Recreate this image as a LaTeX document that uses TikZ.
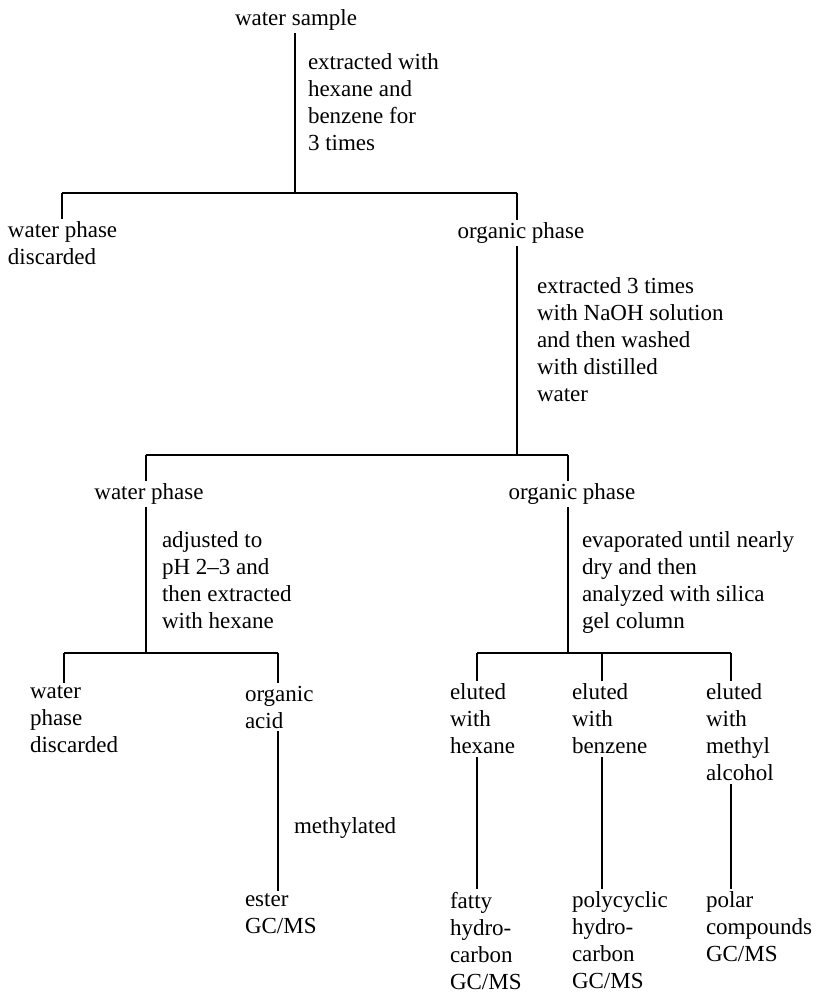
\documentclass[tikz,border=0pt]{standalone}
\usepackage{fontspec}
\setmainfont{Liberation Serif}
\begin{document}
\begin{tikzpicture}[
    x=1pt, y=-1pt,
    % Common Styles
    step_text/.style={
        font=\fontsize{23}{27}\selectfont,
        align=left,
        anchor=north west,
        inner sep=0pt,
        outer sep=3pt
    },
    phase_text/.style={
        font=\fontsize{23}{27}\selectfont,
        inner sep=0pt,
        outer sep=3pt
    },
    link/.style={
        black,
        line width=1.3pt
    }
]
    \useasboundingbox (0,0) rectangle (816,995);

    % ================= FIRST EXTRACTION =================
    \node[phase_text] (sample) at (296,20) {water sample};
    \node[step_text] (step1) at (305,51) {extracted with\\hexane and\\benzene for\\3 times};

    % Split points
    \coordinate (split1)  at (295,193);
    \coordinate (split1l) at (62,193);
    \coordinate (split1r) at (517,193);

    \node[step_text] (waste1) at (5,219) {water phase\\discarded};
    \node[phase_text] (org1) at (521,233) {organic phase};

    \draw[link] (sample.south -| split1) -- (split1);
    \draw[link] (split1l) -- (split1r);
    \draw[link] (split1l) -- (split1l |- waste1.north);
    \draw[link] (split1r) -- (split1r |- org1.north);

    % ================= NaOH EXTRACTION =================
    \node[step_text] (step2) at (534,275) {extracted 3 times\\with NaOH solution\\and then washed\\with distilled\\water};

    \coordinate (split2)  at (517,455);
    \coordinate (split2l) at (146,455);
    \coordinate (split2r) at (568,455);

    \node[phase_text] (water2) at (149,494) {water phase};
    \node[phase_text] (org2) at (572,494) {organic phase};

    \draw[link] (org1.south -| split2) -- (split2);
    \draw[link] (split2l) -- (split2r);
    \draw[link] (split2l) -- (split2l |- water2.north);
    \draw[link] (split2r) -- (split2r |- org2.north);

    % ================= WATER PHASE BRANCH =================
    \node[step_text] (step3) at (159,529) {adjusted to\\pH 2--3 and\\then extracted\\with hexane};

    \coordinate (split3a)  at (146,653);
    \coordinate (split3al) at (64,653);
    \coordinate (split3ar) at (278,653);

    \node[step_text] (waste2) at (27,683) {water\\phase\\discarded};
    \node[step_text] (acid) at (242,683) {organic\\acid};
    \node[phase_text, anchor=west] (step5) at (291,828) {methylated};
    \node[step_text] (ester) at (242,891) {ester\\GC/MS};

    \draw[link] (water2.south -| split3a) -- (split3a);
    \draw[link] (split3al) -- (split3ar);
    \draw[link] (split3al) -- (split3al |- waste2.north);
    \draw[link] (split3ar) -- (split3ar |- acid.north);
    \draw[link] (acid.south -| split3ar) -- (ester.north -| split3ar);

    % ================= ORGANIC PHASE BRANCH =================
    \node[step_text] (step4) at (579,529) {evaporated until nearly\\dry and then\\analyzed with silica\\gel column};

    \coordinate (split3b)  at (568,653);
    \coordinate (split3bl) at (477,653);
    \coordinate (split3bm) at (602,653);
    \coordinate (split3br) at (731,653);

    % Eluates
    \node[step_text] (elhex) at (447,681) {eluted\\with\\hexane};
    \node[step_text] (elben) at (569,681) {eluted\\with\\benzene};
    \node[step_text] (elmeth) at (703,681) {eluted\\with\\methyl\\alcohol};

    % Products
    \node[step_text] (fatty) at (447,889) {fatty\\hydro-\\carbon\\GC/MS};
    \node[step_text] (polycyc) at (569,889) {polycyclic\\hydro-\\carbon\\GC/MS};
    \node[step_text] (polar) at (703,889) {polar\\compounds\\GC/MS};

    \draw[link] (org2.south -| split3b) -- (split3b);
    \draw[link] (split3bl) -- (split3br);
    \foreach \s/\e/\p in {split3bl/elhex/fatty, split3bm/elben/polycyc, split3br/elmeth/polar} {
        \draw[link] (\s) -- (\s |- \e.north);
        \draw[link] (\e.south -| \s) -- (\p.north -| \s);
    }

\end{tikzpicture}
\end{document}
